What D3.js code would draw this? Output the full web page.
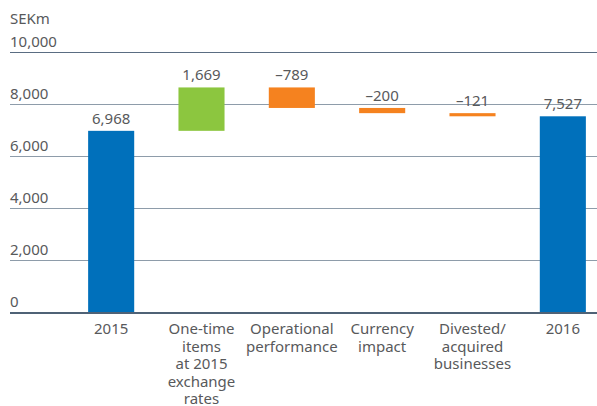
<!DOCTYPE html>
<html>
<head>
<meta charset="utf-8">
<script src="https://cdn.jsdelivr.net/npm/d3@7"></script>
<style>
  html, body { margin: 0; padding: 0; background: #fff; }
  svg { display: block; }
  text { font-family: "Noto Sans", sans-serif; fill: #58595b; }
</style>
</head>
<body>
<svg id="chart" width="597" height="406"></svg>
<script>
// Bridge from 2015 to 2016 (SEKm)
const categories = ["2015", "One-time items at 2015 exchange rates", "Operational performance", "Currency impact", "Divested/ acquired businesses", "2016"];
const categoryLines = [
  ["2015"],
  ["One-time", "items", "at 2015", "exchange", "rates"],
  ["Operational", "performance"],
  ["Currency", "impact"],
  ["Divested/", "acquired", "businesses"],
  ["2016"]
];
const values = [6968, 1669, -789, -200, -121, 7527];
const kinds = ["total", "change", "change", "change", "change", "total"];
const valueLabels = ["6,968", "1,669", "–789", "–200", "–121", "7,527"];
const yTicks = [0, 2000, 4000, 6000, 8000, 10000];
const yTickLabels = ["0", "2,000", "4,000", "6,000", "8,000", "10,000"];
const unitLabel = "SEKm";

const colors = { total: "#0070bb", up: "#8cc63f", down: "#f5821f" };

const svg = d3.select("#chart");

const x = d3.scaleBand()
  .domain(categories)
  .range([66, 608])
  .paddingInner(0.49)
  .paddingOuter(0.245);

const y = d3.scaleLinear().domain([0, 10000]).range([312, 52]);

// running totals for the floating bars
let running = 0;
const bars = values.map((v, i) => {
  let start, end;
  if (kinds[i] === "total") { start = 0; end = v; running = v; }
  else { start = running; end = running + v; running = end; }
  return { cat: categories[i], start, end, value: v, kind: kinds[i], label: valueLabels[i], lines: categoryLines[i] };
});

// gridlines
svg.append("g").selectAll("line")
  .data(yTicks.filter(t => t !== 0))
  .join("line")
  .attr("x1", 10).attr("x2", 597)
  .attr("y1", d => Math.round(y(d)) + 0.5)
  .attr("y2", d => Math.round(y(d)) + 0.5)
  .attr("stroke", d => d === 10000 ? "#5a6d82" : "#8e9caa")
  .attr("stroke-width", 1.2);

// tick labels above gridlines
svg.append("g").selectAll("text")
  .data(yTicks)
  .join("text")
  .attr("x", 10)
  .attr("y", d => y(d) - 5.5)
  .attr("font-size", 15)
  .text((d, i) => yTickLabels[i]);

svg.append("text")
  .attr("x", 10).attr("y", 24)
  .attr("font-size", 15)
  .text(unitLabel);

// bars
svg.append("g").selectAll("rect")
  .data(bars)
  .join("rect")
  .attr("x", d => x(d.cat))
  .attr("width", x.bandwidth())
  .attr("y", d => y(Math.max(d.start, d.end)))
  .attr("height", d => Math.abs(y(d.start) - y(d.end)))
  .attr("fill", d => d.kind === "total" ? colors.total : (d.value >= 0 ? colors.up : colors.down));

// value labels
svg.append("g").selectAll("text")
  .data(bars)
  .join("text")
  .attr("x", d => x(d.cat) + x.bandwidth() / 2)
  .attr("y", d => y(Math.max(d.start, d.end)) - 7)
  .attr("text-anchor", "middle")
  .attr("font-size", 15)
  .text(d => d.label);

// baseline
svg.append("line")
  .attr("x1", 10).attr("x2", 597)
  .attr("y1", y(0) + 1).attr("y2", y(0) + 1)
  .attr("stroke", "#4f6276")
  .attr("stroke-width", 2);

// category labels
const cat = svg.append("g").selectAll("text")
  .data(bars)
  .join("text")
  .attr("x", d => x(d.cat) + x.bandwidth() / 2)
  .attr("y", 334)
  .attr("text-anchor", "middle")
  .attr("font-size", 15);
cat.selectAll("tspan")
  .data(d => d.lines)
  .join("tspan")
  .attr("x", function () { return d3.select(this.parentNode).attr("x"); })
  .attr("dy", (d, i) => i === 0 ? 0 : 17.5)
  .text(d => d);
</script>
</body>
</html>
